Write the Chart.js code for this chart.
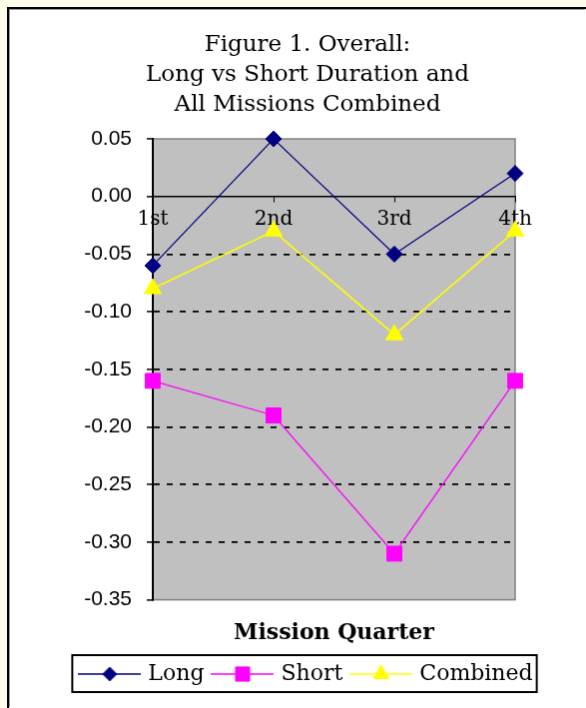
<!DOCTYPE html>
<html>
<head>
<meta charset="utf-8">
<script src="https://cdn.jsdelivr.net/npm/chart.js"></script>
<style>
  html, body { margin: 0; padding: 0; background: #fcfce8; overflow: hidden; }
  #panel {
    position: absolute; left: 7px; top: 7px; width: 620px; height: 740px;
    border-left: 2px solid #000; border-top: 2px solid #000;
    background: #fff;
  }
  #chart { display: block; border-left: 1px solid #999; border-top: 1px solid #999; }
</style>
</head>
<body>
<div id="panel"><canvas id="chart" width="576" height="698"></canvas></div>

<script>
    // values
    const quarters = ['1st', '2nd', '3rd', '4th'];
    const longVals = [-0.06, 0.05, -0.05, 0.02];
    const shortVals = [-0.16, -0.19, -0.31, -0.16];
    const combinedVals = [-0.08, -0.03, -0.12, -0.03];
    const yMin = -0.35, yMax = 0.05, yStep = 0.05;

    const serif = 'DejaVu Serif';

    // little line+marker pictures for the legend
    function legendIcon(color, style, r) {
        const c = document.createElement('canvas');
        c.width = 63; c.height = 22;
        const g = c.getContext('2d');
        g.strokeStyle = color;
        g.fillStyle = color;
        g.lineWidth = 1.5;
        g.beginPath(); g.moveTo(0, 11); g.lineTo(63, 11); g.stroke();
        g.lineWidth = 1;
        Chart.helpers.drawPoint(g, {pointStyle: style, radius: r, borderWidth: 1, rotation: 0}, 31.5, 11);
        return c;
    }
    const icons = [
        legendIcon('#000080', 'rectRot', 7),
        legendIcon('#ff00ff', 'rect', 10),
        legendIcon('#ffff00', 'triangle', 9)
    ];

    const plotBox = {
        id: 'plotBox',
        beforeDraw(chart) {
            const {ctx, chartArea: a} = chart;
            ctx.save();
            ctx.fillStyle = '#c0c0c0';
            ctx.fillRect(a.left, a.top, a.right - a.left, a.bottom - a.top);
            ctx.strokeStyle = '#808080';
            ctx.lineWidth = 1.5;
            ctx.strokeRect(a.left, a.top, a.right - a.left, a.bottom - a.top);
            ctx.restore();
        },
        afterDraw(chart) {
            const hb = chart.legend.legendHitBoxes;
            if (!hb || !hb.length) return;
            const last = hb[hb.length - 1];
            const ctx = chart.ctx;
            const x0 = hb[0].left - 10;
            ctx.save();
            ctx.strokeStyle = '#000';
            ctx.lineWidth = 2;
            ctx.strokeRect(x0, hb[0].top - 8, last.left + last.width + 4 - x0, hb[0].height + 15);
            ctx.restore();
        }
    };

    new Chart(document.getElementById('chart'), {
        type: 'line',
        data: {
            labels: quarters,
            datasets: [
                {
                    label: 'Long',
                    data: longVals,
                    borderColor: '#000080',
                    backgroundColor: '#000080',
                    borderWidth: 1.2,
                    pointStyle: 'rectRot',
                    pointRadius: 8,
                    pointBorderWidth: 1,
                    tension: 0,
                    clip: false
                },
                {
                    label: 'Short',
                    data: shortVals,
                    borderColor: '#ff00ff',
                    backgroundColor: '#ff00ff',
                    borderWidth: 1.3,
                    pointStyle: 'rect',
                    pointRadius: 10.5,
                    pointBorderWidth: 1,
                    tension: 0,
                    clip: false
                },
                {
                    label: 'Combined',
                    data: combinedVals,
                    borderColor: '#ffff00',
                    backgroundColor: '#ffff00',
                    borderWidth: 1.5,
                    pointStyle: 'triangle',
                    pointRadius: 10,
                    pointBorderWidth: 1,
                    tension: 0,
                    clip: false
                }
            ]
        },
        options: {
            responsive: false,
            animation: false,
            layout: { padding: { left: 20, right: 0, top: 0, bottom: 12 } },
            plugins: {
                tooltip: { enabled: false },
                title: {
                    display: true,
                    text: ['Figure 1. Overall:', 'Long vs Short Duration and', 'All Missions Combined'],
                    color: '#000',
                    font: { family: serif, size: 23, weight: 'normal', lineHeight: 30 / 23 },
                    padding: { top: 20, bottom: 19 }
                },
                subtitle: {
                    display: true,
                    position: 'bottom',
                    fullSize: false,
                    weight: 500,
                    text: 'Mission Quarter',
                    color: '#000',
                    font: { family: serif, size: 22, weight: 'bold', lineHeight: 1.2 },
                    padding: { top: 20, bottom: 6 }
                },
                legend: {
                    position: 'bottom',
                    labels: {
                        usePointStyle: true,
                        pointStyleWidth: 55,
                        padding: 11,
                        color: '#000',
                        font: { family: serif, size: 22 },
                        generateLabels(chart) {
                            const items = Chart.defaults.plugins.legend.labels.generateLabels(chart);
                            items.forEach((it, i) => { it.pointStyle = icons[i]; });
                            return items;
                        }
                    }
                }
            },
            scales: {
                x: {
                    type: 'category',
                    position: { y: 0 },
                    offset: false,
                    grid: { drawOnChartArea: false, drawTicks: true, tickLength: 5, color: '#000' },
                    border: { color: '#000', width: 1.5 },
                    ticks: {
                        color: '#000',
                        font: { family: serif, size: 20 },
                        padding: 6,
                        maxRotation: 0,
                        autoSkip: false
                    }
                },
                y: {
                    min: yMin,
                    max: yMax,
                    afterFit(s) { s.width = 123; },
                    grid: {
                        color(c) {
                            const v = c.tick ? c.tick.value : 0;
                            if (Math.abs(v) < 1e-9 || Math.abs(v - yMax) < 1e-9 || Math.abs(v - yMin) < 1e-9) return 'rgba(0,0,0,0)';
                            return '#000';
                        },
                        lineWidth: 1.8,
                        tickColor: '#000',
                        tickLength: 6,
                        tickWidth: 1.5
                    },
                    border: { color: '#000', width: 2, dash: [6, 7] },
                    ticks: {
                        stepSize: yStep,
                        padding: 15,
                        color: '#000',
                        font: { family: 'Liberation Sans', size: 21 },
                        callback: v => (Math.abs(v) < 1e-9 ? 0 : v).toFixed(2)
                    }
                },
                yR: {
                    position: 'right',
                    afterFit(s) { s.width = 70; },
                    grid: { display: false },
                    border: { display: false },
                    ticks: { display: false }
                }
            }
        },
        plugins: [plotBox]
    });
</script>
</body>
</html>
